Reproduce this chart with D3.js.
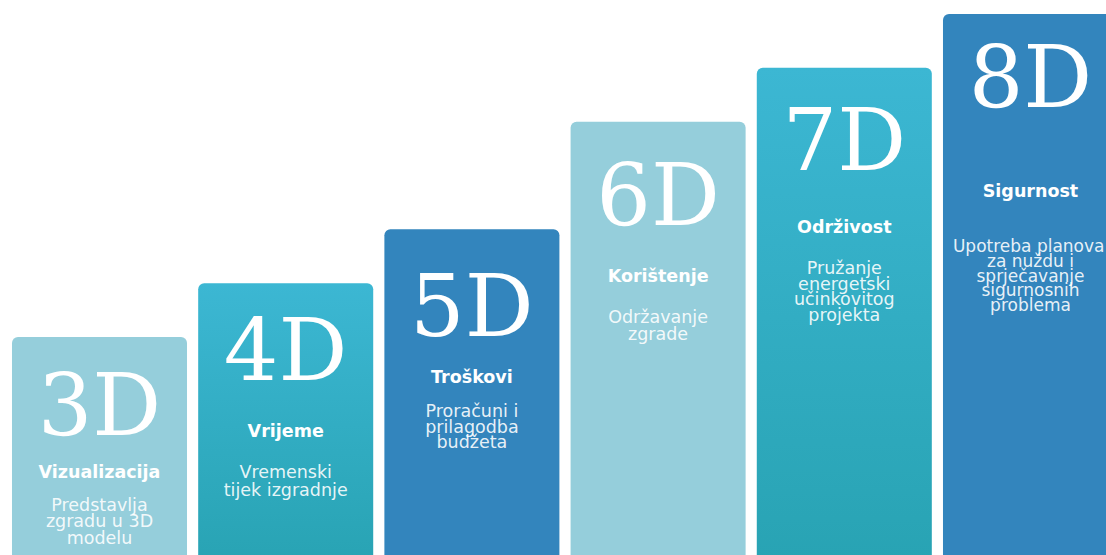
<!DOCTYPE html>
<html>
<head>
<meta charset="utf-8">
<script src="https://cdn.jsdelivr.net/npm/d3@7"></script>
<style>
  html, body { margin: 0; padding: 0; background: #ffffff; }
  svg { display: block; }
</style>
</head>
<body>
<div id="chart"></div>
<script>
// ---- data ----
const categories = ["3D", "4D", "5D", "6D", "7D", "8D"];
const levels = [4, 5, 6, 8, 9, 10];
const titles = ["Vizualizacija", "Vrijeme", "Troškovi", "Korištenje", "Održivost", "Sigurnost"];
const descriptions = [
  ["Predstavlja", "zgradu u 3D", "modelu"],
  ["Vremenski", "tijek izgradnje"],
  ["Proračuni i", "prilagodba", "budžeta"],
  ["Održavanje", "zgrade"],
  ["Pružanje", "energetski", "učinkovitog", "projekta"],
  ["Upotreba planova", "za nuždu i", "sprječavanje", "sigurnosnih", "problema"]
];

// ---- style / layout ----
const W = 1106, H = 555;
const fillStyles = ["light", "grad", "dark", "light", "grad", "dark"];
const bigOffsets = [98, 97, 107, 103, 102, 93];
const titleOffsets = [141, 154, 154, 160, 165, 183];
const bodyOffsets = [174, 195, 188, 201, 206, 238];
const lineHeights = [16.5, 18, 15.5, 17, 15.7, 14.8];
const bodySizes = [17.5, 17.5, 17.5, 17.5, 17.5, 17];

const svg = d3.select("#chart").append("svg")
  .attr("width", W).attr("height", H);

const defs = svg.append("defs");
const grad = defs.append("linearGradient")
  .attr("id", "tealGrad").attr("x1", 0).attr("y1", 0).attr("x2", 0).attr("y2", 1);
grad.append("stop").attr("offset", "0%").attr("stop-color", "#3cb7d3");
grad.append("stop").attr("offset", "100%").attr("stop-color", "#28a3b3");

const fillFor = { light: "#95cedb", grad: "url(#tealGrad)", dark: "#3385bd" };

const data = categories.map((c, i) => ({
  cat: c, level: levels[i], title: titles[i], desc: descriptions[i],
  style: fillStyles[i], bigOff: bigOffsets[i], titleOff: titleOffsets[i],
  bodyOff: bodyOffsets[i], lh: lineHeights[i], fs: bodySizes[i]
}));

const x = d3.scaleBand()
  .domain(categories)
  .range([6.4, 1123.6])
  .paddingInner(0.06)
  .paddingOuter(0.03);

const y = d3.scaleLinear()
  .domain([0, 10])
  .range([552.3, 14]);

const g = svg.selectAll("g.step").data(data).enter().append("g").attr("class", "step");

g.append("rect")
  .attr("x", d => x(d.cat))
  .attr("y", d => y(d.level))
  .attr("width", x.bandwidth())
  .attr("height", d => H - y(d.level) + 12)
  .attr("rx", 6).attr("ry", 6)
  .attr("fill", d => fillFor[d.style]);

const cx = d => x(d.cat) + x.bandwidth() / 2;

g.append("text")
  .attr("x", cx)
  .attr("y", d => y(d.level) + d.bigOff)
  .attr("text-anchor", "middle")
  .attr("font-family", "'DejaVu Serif', serif")
  .attr("font-size", 86)
  .attr("fill", "#ffffff")
  .text(d => d.cat);

g.append("text")
  .attr("x", cx)
  .attr("y", d => y(d.level) + d.titleOff)
  .attr("text-anchor", "middle")
  .attr("font-family", "'DejaVu Sans', Verdana, sans-serif")
  .attr("font-weight", "bold")
  .attr("font-size", 17.5)
  .attr("fill", "#ffffff")
  .text(d => d.title);

g.each(function(d) {
  const t = d3.select(this).append("text")
    .attr("text-anchor", "middle")
    .attr("font-family", "'DejaVu Sans', Verdana, sans-serif")
    .attr("font-size", d.fs)
    .attr("fill", "#ffffff")
    .attr("fill-opacity", 0.9);
  d.desc.forEach((line, k) => {
    const ts = t.append("tspan")
      .attr("x", cx(d))
      .attr("y", y(d.level) + d.bodyOff + k * d.lh)
      .text(line);
    // keep the line inside the picture's right edge
    const len = ts.node().getComputedTextLength();
    const maxCx = W - 1.5 - len / 2;
    if (cx(d) > maxCx) ts.attr("x", maxCx);
  });
});
</script>
</body>
</html>
